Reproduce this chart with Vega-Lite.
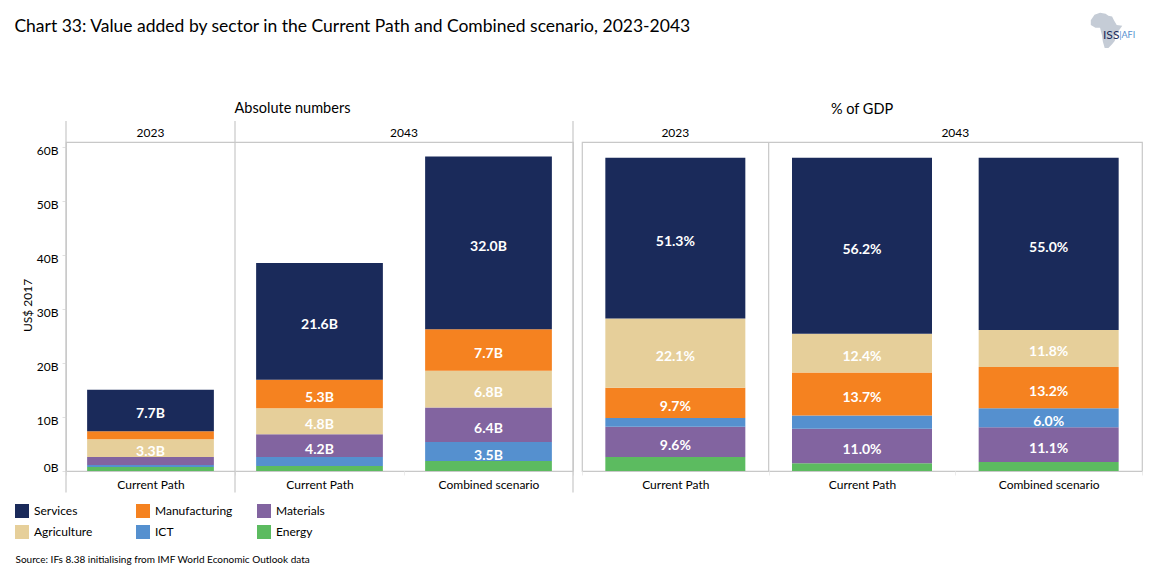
{"$schema":"https://vega.github.io/schema/vega-lite/v6.json","background":"white","padding":{"left":14,"top":12,"right":0,"bottom":0},
"title":{"text":"Chart 33: Value added by sector in the Current Path and Combined scenario, 2023-2043","anchor":"start","frame":"bounds","font":"Lato","fontSize":17.5,"fontWeight":"normal","color":"#000000","offset":-23},
"config":{"font":"Lato","view":{"stroke":"#c8c8c8","strokeWidth":1.2}},
"spacing":5,
"hconcat":[
{"width":507,"height":329,
"title":{"text":"Absolute numbers","font":"Lato","fontSize":14.5,"fontWeight":"normal","color":"#000000","dx":-27,"offset":4},
"layer":[
{"data":{"values":[
{"cat":"2023 Current Path","sector":"Energy","rank":1,"value":0.74,"label":""},
{"cat":"2023 Current Path","sector":"ICT","rank":2,"value":0.37,"label":""},
{"cat":"2023 Current Path","sector":"Materials","rank":3,"value":1.48,"label":""},
{"cat":"2023 Current Path","sector":"Agriculture","rank":4,"value":3.3,"label":"3.3B"},
{"cat":"2023 Current Path","sector":"Manufacturing","rank":5,"value":1.48,"label":""},
{"cat":"2023 Current Path","sector":"Services","rank":6,"value":7.7,"label":"7.7B"},
{"cat":"2043 Current Path","sector":"Energy","rank":1,"value":0.93,"label":""},
{"cat":"2043 Current Path","sector":"ICT","rank":2,"value":1.67,"label":""},
{"cat":"2043 Current Path","sector":"Materials","rank":3,"value":4.2,"label":"4.2B"},
{"cat":"2043 Current Path","sector":"Agriculture","rank":4,"value":4.8,"label":"4.8B"},
{"cat":"2043 Current Path","sector":"Manufacturing","rank":5,"value":5.3,"label":"5.3B"},
{"cat":"2043 Current Path","sector":"Services","rank":6,"value":21.6,"label":"21.6B"},
{"cat":"2043 Combined scenario","sector":"Energy","rank":1,"value":1.85,"label":""},
{"cat":"2043 Combined scenario","sector":"ICT","rank":2,"value":3.5,"label":"3.5B"},
{"cat":"2043 Combined scenario","sector":"Materials","rank":3,"value":6.4,"label":"6.4B"},
{"cat":"2043 Combined scenario","sector":"Agriculture","rank":4,"value":6.8,"label":"6.8B"},
{"cat":"2043 Combined scenario","sector":"Manufacturing","rank":5,"value":7.7,"label":"7.7B"},
{"cat":"2043 Combined scenario","sector":"Services","rank":6,"value":32.0,"label":"32.0B"}
]},
"encoding":{
"x":{"field":"cat","type":"nominal","sort":null,"scale":{"domain":["2023 Current Path","2043 Current Path","2043 Combined scenario"],"padding":0},
"axis":{"labelExpr":"slice(datum.label,5)","labelAngle":0,"labelFontSize":12,"labelColor":"#000000","labelPadding":4,"domain":false,"tickBand":"extent","tickColor":"#ececec","tickSize":4,"title":"Source: IFs 8.38 initialising from IMF World Economic Outlook data","titleFontSize":10,"titleFontWeight":"normal","titleColor":"#000000","titleAlign":"left","titleAnchor":"start","titleX":-51,"titleY":83}},
"y":{"field":"value","type":"quantitative","stack":"zero","scale":{"domain":[0,60.93],"nice":false},
"axis":{"values":[0,10,20,30,40,50,60],"labelExpr":"datum.value+'B'","labelFontSize":12,"labelColor":"#000000","labelPadding":4,"labelOffset":{"condition":{"test":"datum.value===0","value":-4},"value":3},"grid":false,"domain":false,"tickColor":"#e0e0e0","tickSize":4,"title":"US$ 2017","titleFontSize":12,"titleFontWeight":"normal","titleColor":"#000000","titleX":-32,"titleY":163}},
"order":{"field":"rank","type":"quantitative"}},
"layer":[
{"mark":{"type":"bar","width":{"band":0.75}},"encoding":{"color":{"field":"sector","type":"nominal","scale":{"domain":["Services","Agriculture","Manufacturing","ICT","Materials","Energy"],"range":["#1a2a5a","#e6cf9a","#f58220","#5590cf","#8264a0","#5cbb60"]},
"legend":{"orient":"none","legendX":-51,"legendY":362,"title":null,"columns":3,"gridAlign":"all","columnPadding":24,"rowPadding":7,"padding":0,"symbolType":"square","symbolSize":196,"symbolStrokeWidth":0,"symbolOpacity":1,"labelFontSize":12,"labelColor":"#000000","labelOffset":5}}}},
{"mark":{"type":"text","color":"#ffffff","fontWeight":"bold","fontSize":14,"dy":4},"encoding":{"y":{"field":"value","type":"quantitative","stack":"zero","bandPosition":0.5},"detail":{"field":"sector"},"text":{"field":"label"}}}
]},
{"data":{"values":[{"cat":"2023 Current Path"},{"cat":"2043 Current Path"}]},"mark":{"type":"rule","color":"#c8c8c8","strokeWidth":1.2},"encoding":{"x":{"field":"cat","type":"nominal","bandPosition":0},"y":{"datum":64.8},"y2":{"datum":-4}}},
{"data":{"values":[{"cat":"2043 Combined scenario"}]},"mark":{"type":"rule","color":"#c8c8c8","strokeWidth":1.2},"encoding":{"x":{"field":"cat","type":"nominal","bandPosition":1},"y":{"datum":64.8},"y2":{"datum":-4}}},
{"data":{"values":[{"cat":"2023 Current Path","year":"2023"}]},"mark":{"type":"text","fontSize":12,"color":"#000000"},"encoding":{"x":{"field":"cat","type":"nominal","bandPosition":0.5},"y":{"datum":62.6},"text":{"field":"year"}}},
{"data":{"values":[{"cat":"2043 Current Path","year":"2043"}]},"mark":{"type":"text","fontSize":12,"color":"#000000"},"encoding":{"x":{"field":"cat","type":"nominal","bandPosition":1},"y":{"datum":62.6},"text":{"field":"year"}}}
]},
{"width":560,"height":329,
"title":{"text":"% of GDP","font":"Lato","fontSize":14.5,"fontWeight":"normal","color":"#000000","offset":-105},
"layer":[
{"data":{"values":[
{"cat":"2023 Current Path","sector":"Energy","rank":1,"value":4.5,"label":""},
{"cat":"2023 Current Path","sector":"Materials","rank":2,"value":9.6,"label":"9.6%"},
{"cat":"2023 Current Path","sector":"ICT","rank":3,"value":2.8,"label":""},
{"cat":"2023 Current Path","sector":"Manufacturing","rank":4,"value":9.7,"label":"9.7%"},
{"cat":"2023 Current Path","sector":"Agriculture","rank":5,"value":22.1,"label":"22.1%"},
{"cat":"2023 Current Path","sector":"Services","rank":6,"value":51.3,"label":"51.3%"},
{"cat":"2043 Current Path","sector":"Energy","rank":1,"value":2.5,"label":""},
{"cat":"2043 Current Path","sector":"Materials","rank":2,"value":11.0,"label":"11.0%"},
{"cat":"2043 Current Path","sector":"ICT","rank":3,"value":4.2,"label":""},
{"cat":"2043 Current Path","sector":"Manufacturing","rank":4,"value":13.7,"label":"13.7%"},
{"cat":"2043 Current Path","sector":"Agriculture","rank":5,"value":12.4,"label":"12.4%"},
{"cat":"2043 Current Path","sector":"Services","rank":6,"value":56.2,"label":"56.2%"},
{"cat":"2043 Combined scenario","sector":"Energy","rank":1,"value":2.9,"label":""},
{"cat":"2043 Combined scenario","sector":"Materials","rank":2,"value":11.1,"label":"11.1%"},
{"cat":"2043 Combined scenario","sector":"ICT","rank":3,"value":6.0,"label":"6.0%"},
{"cat":"2043 Combined scenario","sector":"Manufacturing","rank":4,"value":13.2,"label":"13.2%"},
{"cat":"2043 Combined scenario","sector":"Agriculture","rank":5,"value":11.8,"label":"11.8%"},
{"cat":"2043 Combined scenario","sector":"Services","rank":6,"value":55.0,"label":"55.0%"}
]},
"encoding":{
"x":{"field":"cat","type":"nominal","sort":null,"scale":{"domain":["2023 Current Path","2043 Current Path","2043 Combined scenario"],"padding":0},
"axis":{"labelExpr":"slice(datum.label,5)","labelAngle":0,"labelFontSize":12,"labelColor":"#000000","labelPadding":4,"domain":false,"tickBand":"extent","tickColor":"#ececec","tickSize":4,"title":null}},
"y":{"field":"value","type":"quantitative","stack":"zero","scale":{"domain":[0,105],"nice":false},"axis":null},
"order":{"field":"rank","type":"quantitative"}},
"layer":[
{"mark":{"type":"bar","width":{"band":0.75}},"encoding":{"color":{"field":"sector","type":"nominal","scale":{"domain":["Services","Agriculture","Manufacturing","ICT","Materials","Energy"],"range":["#1a2a5a","#e6cf9a","#f58220","#5590cf","#8264a0","#5cbb60"]},"legend":null}}},
{"mark":{"type":"text","color":"#ffffff","fontWeight":"bold","fontSize":14,"dy":4},"encoding":{"y":{"field":"value","type":"quantitative","stack":"zero","bandPosition":0.5},"detail":{"field":"sector"},"text":{"field":"label"}}}
]},
{"data":{"values":[{"cat":"2043 Current Path"}]},"mark":{"type":"rule","color":"#c8c8c8","strokeWidth":1.2},"encoding":{"x":{"field":"cat","type":"nominal","bandPosition":0},"y":{"datum":0},"y2":{"datum":105}}},
{"data":{"values":[{"cat":"2023 Current Path","year":"2023"}]},"mark":{"type":"text","fontSize":12,"color":"#000000"},"encoding":{"x":{"field":"cat","type":"nominal","bandPosition":0.5},"y":{"datum":108},"text":{"field":"year"}}},
{"data":{"values":[{"cat":"2043 Current Path","year":"2043"}]},"mark":{"type":"text","fontSize":12,"color":"#000000"},"encoding":{"x":{"field":"cat","type":"nominal","bandPosition":1},"y":{"datum":108},"text":{"field":"year"}}},
{"data":{"values":[{"cat":"2043 Combined scenario"}]},"mark":{"type":"point","filled":true,"color":"#c5ccd6","opacity":1,"size":1370,"shape":"M -0.85,-0.55 L -0.65,-0.85 L -0.35,-0.95 L -0.05,-0.9 L 0.1,-0.8 L 0.3,-0.75 L 0.4,-0.55 L 0.55,-0.3 L 0.85,-0.25 L 0.6,0.1 L 0.45,0.3 L 0.45,0.55 L 0.3,0.75 L 0.1,0.95 L -0.1,0.95 L -0.2,0.6 L -0.25,0.25 L -0.3,0.05 L -0.35,-0.15 L -0.6,-0.15 L -0.85,-0.3 Z"},"encoding":{"x":{"field":"cat","type":"nominal","bandPosition":0.81},"y":{"datum":140.6}}},
{"data":{"values":[{"cat":"2043 Combined scenario","t":"ISS"}]},"mark":{"type":"text","fontSize":12,"color":"#1a2a5a","align":"center"},"encoding":{"x":{"field":"cat","type":"nominal","bandPosition":0.835},"y":{"datum":139},"text":{"field":"t"}}},
{"data":{"values":[{"cat":"2043 Combined scenario","t":"|AFI"}]},"mark":{"type":"text","fontSize":9,"color":"#5590cf","align":"left"},"encoding":{"x":{"field":"cat","type":"nominal","bandPosition":0.878},"y":{"datum":139},"text":{"field":"t"}}}
]}
]}
